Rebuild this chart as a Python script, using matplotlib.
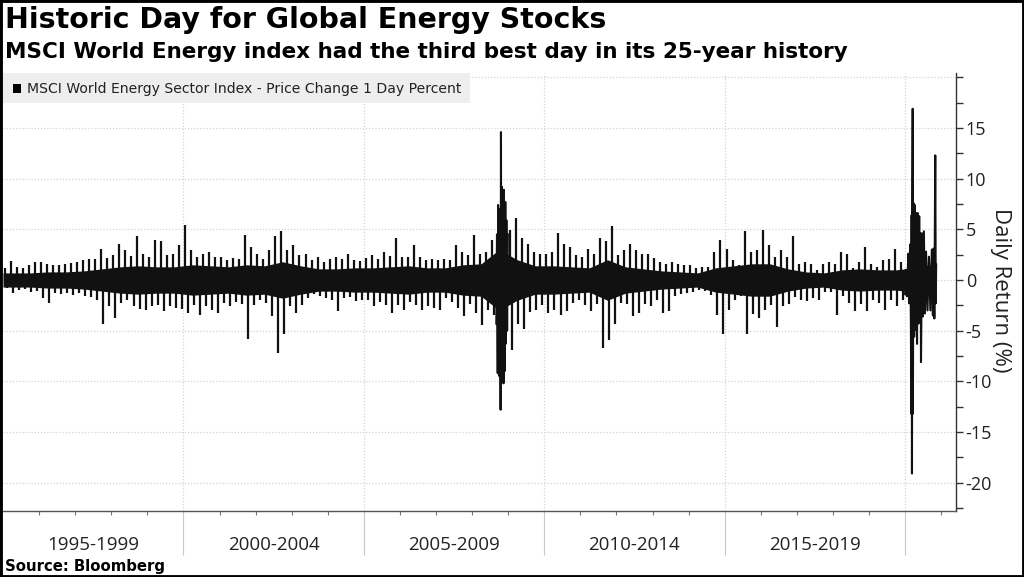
import matplotlib
matplotlib.use("Agg")
import matplotlib.pyplot as plt
import matplotlib.transforms as mtransforms
from matplotlib.patches import Rectangle
import numpy as np

# ---- data -------------------------------------------------------------------
# two-month extremes of the daily return (%), 6 bins per year, 1995-2019
YEARS = list(range(1995, 2020))
BIN_HI = [
    1.2, 1.9, 1.3, 1.2, 1.5, 1.8,   # 1995
    1.8, 1.6, 1.5, 1.5, 1.6, 1.7,   # 1996
    1.8, 2.0, 2.1, 2.1, 3.1, 2.2,   # 1997
    2.5, 3.6, 3.0, 2.4, 4.3, 2.6,   # 1998
    2.3, 3.9, 3.8, 2.5, 2.6, 3.5,   # 1999
    5.4, 3.0, 2.3, 2.6, 2.8, 2.3,   # 2000
    2.3, 2.0, 2.2, 2.1, 4.4, 3.3,   # 2001
    2.6, 2.1, 3.0, 4.3, 4.8, 3.0,   # 2002
    3.5, 2.5, 2.6, 2.0, 2.3, 1.8,   # 2003
    2.1, 2.3, 2.1, 2.6, 2.0, 1.9,   # 2004
    2.2, 2.5, 2.1, 2.8, 2.4, 4.1,   # 2005
    2.3, 2.3, 3.5, 2.3, 2.0, 2.1,   # 2006
    2.0, 2.1, 2.0, 3.5, 2.8, 2.5,   # 2007
    4.4, 2.6, 2.8, 3.9, 4.0, 4.0,   # 2008
    4.9, 6.1, 4.1, 3.6, 2.8, 2.6,   # 2009
    2.6, 2.8, 4.6, 3.6, 3.3, 2.5,   # 2010
    2.3, 3.1, 2.6, 4.1, 3.8, 5.3,   # 2011
    2.5, 3.0, 3.6, 3.0, 2.6, 2.6,   # 2012
    2.2, 1.8, 1.6, 1.8, 1.6, 1.5,   # 2013
    1.5, 1.2, 1.3, 1.3, 2.8, 3.9,   # 2014
    3.1, 2.0, 1.5, 4.8, 2.8, 3.0,   # 2015
    4.9, 3.5, 2.3, 3.0, 2.3, 4.3,   # 2016
    1.6, 1.8, 1.6, 1.0, 1.6, 1.8,   # 2017
    1.6, 2.8, 2.6, 1.2, 1.8, 3.3,   # 2018
    1.6, 1.3, 2.0, 2.1, 3.1, 1.8,   # 2019
]
BIN_LO = [
    -0.8, -1.3, -1.0, -0.9, -1.2, -1.1,   # 1995
    -1.8, -2.3, -1.3, -1.4, -1.3, -1.5,   # 1996
    -1.3, -1.6, -1.7, -2.0, -4.3, -2.6,   # 1997
    -3.8, -2.3, -2.0, -2.6, -2.9, -3.0,   # 1998
    -2.6, -2.5, -3.1, -2.6, -2.8, -2.9,   # 1999
    -3.3, -2.5, -3.5, -2.6, -3.0, -3.3,   # 2000
    -2.3, -2.6, -2.2, -2.4, -5.8, -2.5,   # 2001
    -2.0, -2.3, -3.6, -7.2, -5.3, -2.6,   # 2002
    -3.3, -2.5, -1.8, -1.4, -1.6, -1.8,   # 2003
    -2.0, -3.1, -1.8, -1.7, -2.1, -2.0,   # 2004
    -2.0, -2.6, -2.2, -2.5, -3.3, -2.5,   # 2005
    -3.0, -2.2, -2.5, -3.0, -2.6, -2.8,   # 2006
    -3.0, -1.8, -2.2, -2.8, -3.6, -2.4,   # 2007
    -3.3, -4.4, -3.0, -3.5, -4.0, -4.0,   # 2008
    -6.9, -4.3, -4.8, -3.2, -3.0, -2.5,   # 2009
    -3.3, -3.0, -3.5, -3.1, -2.3, -2.0,   # 2010
    -2.5, -3.1, -2.4, -6.7, -5.9, -4.3,   # 2011
    -2.3, -2.4, -3.6, -3.3, -2.4, -2.6,   # 2012
    -2.0, -3.3, -3.1, -1.6, -1.4, -1.3,   # 2013
    -1.2, -1.0, -1.1, -1.5, -3.5, -5.3,   # 2014
    -3.0, -2.0, -1.6, -5.3, -3.4, -3.8,   # 2015
    -3.0, -2.5, -4.6, -2.6, -2.4, -1.7,   # 2016
    -2.0, -2.1, -1.8, -2.0, -1.2, -1.2,   # 2017
    -3.5, -1.6, -2.3, -3.1, -2.4, -3.1,   # 2018
    -2.0, -2.3, -3.0, -2.0, -2.6, -2.0,   # 2019
]

# half-width of the solid "noise" band, per half year 1995-2020
CORE_HALF = [
    0.7, 0.7, 0.8, 0.8, 0.9, 1.1, 1.3, 1.4, 1.3, 1.3,   # 1995-1999
    1.5, 1.4, 1.3, 1.5, 1.4, 1.8, 1.4, 1.1, 1.1, 1.2,   # 2000-2004
    1.2, 1.3, 1.4, 1.2, 1.2, 1.5, 1.6, 3.0, 2.0, 1.4,   # 2005-2009
    1.4, 1.3, 1.2, 2.0, 1.3, 1.1, 0.9, 0.8, 0.7, 1.2,   # 2010-2014
    1.4, 1.6, 1.6, 1.1, 0.8, 0.7, 1.0, 1.1, 1.0, 1.0,   # 2015-2019
    1.2, 1.6,                                           # 2020
]

# financial crisis, autumn 2008 (decimal year, daily %)
CRISIS08_T = [2008.67, 2008.69, 2008.71, 2008.72, 2008.74, 2008.75, 2008.76,
              2008.78, 2008.79, 2008.80, 2008.81, 2008.82, 2008.83, 2008.85,
              2008.87, 2008.88, 2008.90, 2008.92, 2008.93, 2008.95, 2008.97,
              2008.99]
CRISIS08_V = [-4.3, 4.5, -9.2, 7.4, -7.0, 7.0, -9.5,
              6.0, -12.8, 14.6, -8.5, 9.2, -9.9, 8.0,
              -10.2, 8.9, -9.0, 7.7, -6.3, 5.9, -5.0,
              4.5]

# 2020: covid crash, then the vaccine rally in November
Y2020_T = [2020.00, 2020.02, 2020.05, 2020.09, 2020.11, 2020.14, 2020.16,
           2020.17, 2020.18, 2020.19, 2020.20, 2020.21, 2020.215, 2020.23,
           2020.25, 2020.27, 2020.29, 2020.31, 2020.33, 2020.35, 2020.37,
           2020.39, 2020.41, 2020.43, 2020.44, 2020.47, 2020.49, 2020.52,
           2020.55, 2020.58, 2020.62, 2020.66, 2020.70, 2020.74, 2020.77,
           2020.79, 2020.81, 2020.835, 2020.85, 2020.86]
Y2020_V = [-1.4, 1.0, -1.6, 2.6, -2.3, 3.5, -4.3,
           -13.2, 6.4, -19.1, 7.0, 16.9, -13.2, 7.6,
           -5.6, 7.4, -4.9, 6.6, -6.3, 6.6, -4.3,
           6.3, -3.6, 4.6, -8.1, 4.6, -3.6, 4.8,
           -3.3, 2.8, -3.0, 2.3, -3.0, 3.0, -3.5,
           3.1, -3.8, 12.3, -2.3, 1.5]

PERIOD_LABELS = ["1995-1999", "2000-2004", "2005-2009", "2010-2014", "2015-2019"]
PERIOD_MID = [1997.5, 2002.5, 2007.5, 2012.5, 2017.5]

# ---- style -----------------------------------------------------------------
INK = "#111111"
GRID = "#d4d4d4"
TXT = "#222222"
TICK_FONT = ["Open Sans", "DejaVu Sans"]

W, H = 1024, 577
fig = plt.figure(figsize=(W / 100, H / 100), dpi=100)
fig.patch.set_facecolor("white")


def fx(px):
    return px / W


def fy(py):
    return 1 - py / H


ax = fig.add_axes([fx(3), fy(511), fx(956) - fx(3), fy(73) - fy(511)])
ax.set_xlim(1995.0, 2021.41)
ax.set_ylim(-22.8, 20.43)

# grid
for v in range(-20, 21, 5):
    ax.axhline(v, color=GRID, lw=0.9, ls=(0, (1, 1.5)), zorder=0)
for yr in range(2000, 2021, 5):
    ax.axvline(yr, color=GRID, lw=0.9, ls=(0, (1, 1.5)), zorder=0)

# solid band
core = np.array(CORE_HALF)
core_t = [1995 + 0.25 + 0.5 * i for i in range(len(CORE_HALF))]
core_t[0], core_t[-1] = 1995.0, 2020.86
ax.fill_between(core_t, -core, core, color=INK, lw=0, zorder=2)

# two-month extremes as spikes
t_hi = [y + (k + 0.3) / 6 for y in YEARS for k in range(6)]
t_lo = [y + (k + 0.7) / 6 for y in YEARS for k in range(6)]
ax.vlines(t_hi, 0, BIN_HI, color=INK, lw=1.6, zorder=3)
ax.vlines(t_lo, 0, BIN_LO, color=INK, lw=1.6, zorder=3)

# crisis stretches as a dense line
ax.plot(CRISIS08_T, CRISIS08_V, color=INK, lw=1.5, zorder=3)
ax.plot(Y2020_T, Y2020_V, color=INK, lw=1.5, zorder=3)

# spines
for s in ("left", "top"):
    ax.spines[s].set_visible(False)
ax.spines["right"].set_color("#333333")
ax.spines["bottom"].set_color("#555555")
ax.spines["right"].set_linewidth(1.0)
ax.spines["bottom"].set_linewidth(1.0)

# y axis on the right
ax.yaxis.tick_right()
ax.set_yticks(range(-20, 16, 5))
ax.set_yticks(np.arange(-22.5, 20.1, 2.5), minor=True)
ax.tick_params(axis="y", which="both", length=5, width=1, color="#333333",
               pad=2, labelsize=13, labelcolor=TXT)
ax.set_yticklabels([str(v) for v in range(-20, 16, 5)])
for lab in ax.get_yticklabels():
    lab.set_family(TICK_FONT)

# x axis: yearly ticks, long separators every 5 years
ax.set_xticks(range(2000, 2021, 5))
ax.set_xticks([y for y in range(1996, 2022) if y % 5], minor=True)
ax.tick_params(axis="x", which="major", length=32, width=0.8, color="#c8c8c8",
               labelbottom=False)
ax.tick_params(axis="x", which="minor", length=3, width=0.8, color="#777777")

tr = mtransforms.blended_transform_factory(ax.transData, fig.transFigure)
for lab, xm in zip(PERIOD_LABELS, PERIOD_MID):
    ax.text(xm, fy(545), lab, transform=tr, ha="center", va="center",
            fontsize=13.5, color=TXT, family=TICK_FONT)

fig.text(fx(1000), fy(290), "Daily Return (%)", rotation=270, ha="center",
         va="center", fontsize=16, color=TXT, family=TICK_FONT)

# legend box
fig.patches.append(Rectangle((fx(3), fy(103)), fx(470) - fx(3), fy(73) - fy(103),
                             transform=fig.transFigure, facecolor="#eeeeee",
                             edgecolor="none", zorder=5))
fig.patches.append(Rectangle((fx(13), fy(93)), fx(8), fy(84) - fy(93),
                             transform=fig.transFigure, facecolor="black",
                             edgecolor="none", zorder=6))
fig.text(fx(27), fy(88.5), "MSCI World Energy Sector Index - Price Change 1 Day Percent",
         ha="left", va="center", fontsize=10.1, color=TXT, zorder=7)

# titles and source
fig.text(fx(5), fy(20), "Historic Day for Global Energy Stocks", ha="left",
         va="center", fontsize=20.5, fontweight="bold", color="black")
fig.text(fx(5), fy(52), "MSCI World Energy index had the third best day in its 25-year history",
         ha="left", va="center", fontsize=15.5, fontweight="bold", color="black")
fig.text(fx(5), fy(566), "Source: Bloomberg", ha="left", va="center",
         fontsize=10.7, fontweight="bold", color="black")

# outer frame
fig.patches.append(Rectangle((0, 0), 1, 1, transform=fig.transFigure,
                             fill=False, edgecolor="black", lw=3.5, zorder=10))

fig.savefig("out.png", dpi=100)
